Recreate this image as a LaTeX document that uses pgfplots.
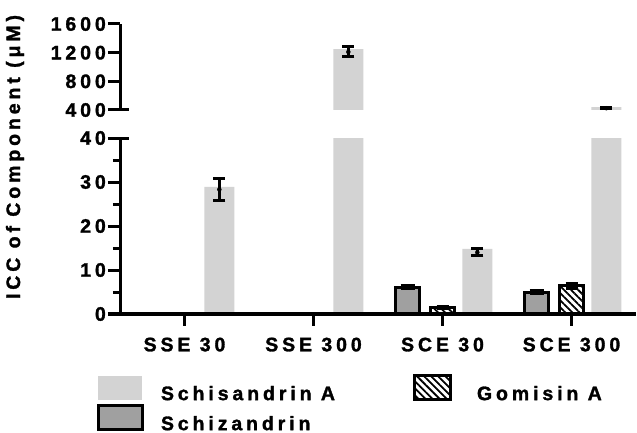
\documentclass[border=0pt]{standalone}
\usepackage{fontspec}
\setmainfont{Liberation Sans}[LetterSpace=20, UprightFont=* Bold, BoldFont=* Bold, FakeBold=1.5]
\usepackage{pgfplots}
\pgfplotsset{compat=1.18}
\usetikzlibrary{patterns.meta}
\definecolor{lightbar}{RGB}{211,211,211}
\definecolor{darkbar}{RGB}{160,160,160}
\newcommand{\chartfont}{\fontsize{19.5bp}{23bp}\selectfont\bfseries}
\pgfplotsset{
  lightleg/.style={legend image code/.code={\fill[lightbar] (0bp,-5bp) rectangle (44bp,19bp);}},
  wideleg/.style={legend image code/.code={\draw[##1] (0bp,-5bp) rectangle (44bp,19bp);}},
  narrowleg/.style={legend image code/.code={\draw[##1] (0bp,-5bp) rectangle (36bp,19bp);}},
  base/.style={
    scale only axis, width=516bp, xmin=-0.5, xmax=3.5,
    axis line style={line width=3bp, black},
    tick style={line width=3bp, black},
    tick align=outside,
    major tick length=12bp, minor tick length=7bp,
    /pgf/number format/assume math mode=true,
    /pgf/number format/set thousands separator={},
    tick label style={font=\chartfont},
    yticklabel style={inner sep=2bp},
    axis y line*=left,
  },
  ebar/.style={error bars/.cd, y dir=both, y explicit,
    error bar style={line width=3bp, black},
    error mark options={rotate=90, mark size=#1, line width=3bp, black}},
}
\begin{document}
\chartfont
\begin{tikzpicture}
\useasboundingbox (0bp,0bp) rectangle (637bp,433bp);
% ---------- lower panel ----------
\begin{axis}[base, name=low, at={(120bp,119bp)}, anchor=south west,
  height=176bp, ymin=0, ymax=40,
  ytick={0,10,20,30,40}, minor y tick num=1,
  axis x line*=bottom,
  xtick={0,1,2,3}, xticklabels={SSE 30, SSE 300, SCE 30, SCE 300},
  xticklabel style={yshift=-5bp},
  axis on top,
  legend columns=2,
  legend cell align=left,
  legend style={at={(-0.0446,-0.341)}, anchor=north west, draw=none,
    inner sep=0pt, outer sep=0pt, row sep=1bp, column sep=0pt,
    nodes={inner sep=0pt, outer sep=0pt}, font=\chartfont},
  wideleg,
]
\addplot[ybar, bar width=30bp, bar shift=0pt, fill=lightbar, draw=none, lightleg]
  coordinates {(0.27,28.9) (1.27,1251) (2.27,14.8) (3.27,440)};
\addlegendentry{\makebox[269bp][l]{\hspace{17bp}Schisandrin A}}
\addplot[ybar, bar width=24bp, bar shift=0pt, draw=black, line width=3bp,
  pattern={Lines[angle=-45, distance=5bp, line width=1.8bp]}, pattern color=black,
  narrowleg, ebar=6bp]
  coordinates {(2,1.4) +- (0,0.2) (3,6.4) +- (0,0.6)};
\addlegendentry{\hspace{25bp}Gomisin A}
\addplot[ybar, bar width=24bp, bar shift=0pt, fill=darkbar, draw=black, line width=3bp,
  ebar=7bp]
  coordinates {(1.73,6.1) +- (0,0.3) (2.73,5.0) +- (0,0.3)};
\addlegendentry{\makebox[269bp][l]{\hspace{17bp}Schizandrin}}
\addplot[forget plot, only marks, mark=none, ebar=6bp]
  coordinates {(0.27,28.3) +- (0,2.6) (2.27,14.0) +- (0,0.8)};
\end{axis}
% ---------- upper panel ----------
\begin{axis}[base, name=up, at={(120bp,323bp)}, anchor=south west,
  height=86bp, ymin=400, ymax=1600,
  ytick={400,800,1200,1600},
  axis x line=none,
]
\addplot[ybar, bar width=30bp, bar shift=0pt, fill=lightbar, draw=none]
  coordinates {(1.27,1251) (3.27,440)};
\addplot[only marks, mark=none, ebar=6bp]
  coordinates {(1.27,1210) +- (0,70) (3.27,425) +- (0,15)};
\end{axis}
% break caps
\draw[line width=3bp] ([xshift=-1.5bp]up.south west) -- ++(10.5bp,0);
\draw[line width=3bp] ([xshift=-1.5bp]low.north west) -- ++(10.5bp,0);
\node[rotate=90, inner sep=0pt] at (15bp,276bp) {ICC of Component (μM)};
\end{tikzpicture}
\end{document}
